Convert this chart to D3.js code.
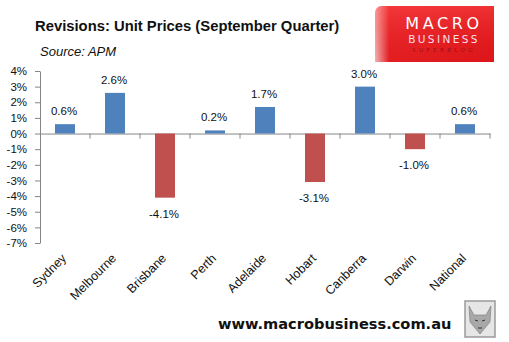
<!DOCTYPE html>
<html><head><meta charset="utf-8">
<script src="https://cdn.jsdelivr.net/npm/d3@7"></script>
<style>body{margin:0;background:#fff}svg{display:block}</style>
</head><body>
<script>
const categories = ["Sydney","Melbourne","Brisbane","Perth","Adelaide","Hobart","Canberra","Darwin","National"];
const values = [0.6, 2.6, -4.1, 0.2, 1.7, -3.1, 3.0, -1.0, 0.6];
const yTicks = [4,3,2,1,0,-1,-2,-3,-4,-5,-6,-7];
const title = "Revisions: Unit Prices (September Quarter)";
const source = "Source: APM";

const W = 509, H = 342;
const svg = d3.select("body").append("svg").attr("width", W).attr("height", H);
const font = "'Liberation Sans', Arial, sans-serif";

const xb = d3.scaleBand().domain(categories).range([40, 490]);
const y = d3.scaleLinear().domain([-7, 4]).range([243, 71]);

// title
svg.append("text").attr("x", 35).attr("y", 31).attr("font-family", font).attr("font-weight", "bold")
  .attr("font-size", 14.8).attr("fill", "#111").text(title);
svg.append("text").attr("x", 40).attr("y", 56).attr("font-family", font).attr("font-style", "italic")
  .attr("font-size", 13).attr("fill", "#111").text(source);

// logo
const defs = svg.append("defs");
const g1 = defs.append("linearGradient").attr("id", "lg").attr("x1", 0).attr("x2", 1).attr("y1", 0).attr("y2", 0);
g1.append("stop").attr("offset", "0").attr("stop-color", "#fbe0e0");
g1.append("stop").attr("offset", "0.12").attr("stop-color", "#e8262a");
g1.append("stop").attr("offset", "1").attr("stop-color", "#e01b20");
const g2 = defs.append("linearGradient").attr("id", "lg2").attr("x1", 0).attr("x2", 0).attr("y1", 0).attr("y2", 1);
g2.append("stop").attr("offset", "0").attr("stop-color", "#ff4a4a").attr("stop-opacity", 0.5);
g2.append("stop").attr("offset", "1").attr("stop-color", "#c00").attr("stop-opacity", 0.2);
svg.append("path").attr("d", "M382,6 L494,6 L494,62 L375,62 L375,14 Q375,6 382,6 Z").attr("fill", "url(#lg)");
svg.append("path").attr("d", "M382,6 L494,6 L494,62 L375,62 L375,14 Q375,6 382,6 Z").attr("fill", "url(#lg2)");
svg.append("text").attr("x", 444).attr("y", 29).attr("text-anchor", "middle").attr("font-family", "'DejaVu Sans', sans-serif")
  .attr("font-size", 16).attr("letter-spacing", 3.6).attr("fill", "#fff").text("MACRO");
svg.append("text").attr("x", 444).attr("y", 43).attr("text-anchor", "middle").attr("font-family", "'DejaVu Sans', sans-serif")
  .attr("font-size", 10.5).attr("letter-spacing", 2.4).attr("fill", "#fde").text("BUSINESS");
svg.append("text").attr("x", 444).attr("y", 52).attr("text-anchor", "middle").attr("font-family", "'DejaVu Sans', sans-serif")
  .attr("font-size", 5.5).attr("letter-spacing", 3.4).attr("fill", "#9a1015").text("SUPERBLOG");

// y axis
const yAxis = svg.append("g").attr("transform", "translate(40,0)")
  .call(d3.axisLeft(y).tickValues(yTicks).tickFormat(d => d + "%").tickSize(5).tickSizeOuter(0));
yAxis.select(".domain").attr("stroke", "#868686");
yAxis.selectAll(".tick line").attr("stroke", "#868686");
yAxis.selectAll(".tick text").attr("font-family", font).attr("font-size", 11.5).attr("fill", "#111").attr("x", -13);

// x axis line and ticks
const xAxis = svg.append("g").attr("transform", `translate(0,${y(0)})`)
  .call(d3.axisBottom(xb).tickSize(0).tickFormat(""));
xAxis.select(".domain").attr("stroke", "#868686");
svg.append("g").selectAll("line").data(categories).join("line")
  .attr("x1", d => xb(d) + xb.bandwidth()).attr("x2", d => xb(d) + xb.bandwidth())
  .attr("y1", y(0)).attr("y2", y(0) + 5).attr("stroke", "#868686");

// bars
svg.append("g").selectAll("rect").data(values).join("rect")
  .attr("x", (d, i) => xb(categories[i]) + xb.bandwidth() / 2 - 10)
  .attr("width", 20)
  .attr("y", d => y(Math.max(0, d)))
  .attr("height", d => Math.abs(y(d) - y(0)))
  .attr("fill", d => d >= 0 ? "#4F81BD" : "#C0504D");

// data labels
svg.append("g").selectAll("text").data(values).join("text")
  .attr("x", (d, i) => xb(categories[i]) + xb.bandwidth() / 2 - 1)
  .attr("y", d => d >= 0 ? y(d) - 9 : y(d) + 20)
  .attr("text-anchor", "middle").attr("font-family", font).attr("font-size", 11.5).attr("fill", "#111")
  .text(d => d.toFixed(1) + "%");

// category labels
svg.append("g").selectAll("text").data(categories).join("text")
  .attr("transform", d => `translate(${xb(d) + xb.bandwidth() / 2 + 2},${259}) rotate(-45)`)
  .attr("text-anchor", "end").attr("font-family", font).attr("font-size", 12.5).attr("fill", "#111")
  .text(d => d);

// footer
svg.append("text").attr("x", 218).attr("y", 329).attr("font-family", "'DejaVu Sans', sans-serif").attr("font-weight", "bold")
  .attr("font-size", 14.6).attr("fill", "#111").text("www.macrobusiness.com.au");

// wolf image placeholder
svg.append("rect").attr("x", 465).attr("y", 301).attr("width", 30).attr("height", 36)
  .attr("fill", "#e6e6e6").attr("stroke", "#9a9a9a").attr("stroke-width", 1.5);
svg.append("path").attr("d", "M469,306 L474,315 L486,315 L491,306 L490,322 L480,334 L470,322 Z")
  .attr("fill", "#a8a8a8").attr("stroke", "#777").attr("stroke-width", 0.6);
svg.append("path").attr("d", "M475,320 L478,321 M482,321 L485,320 M478,328 L482,328")
  .attr("stroke", "#333").attr("stroke-width", 1);
</script>
</body></html>
